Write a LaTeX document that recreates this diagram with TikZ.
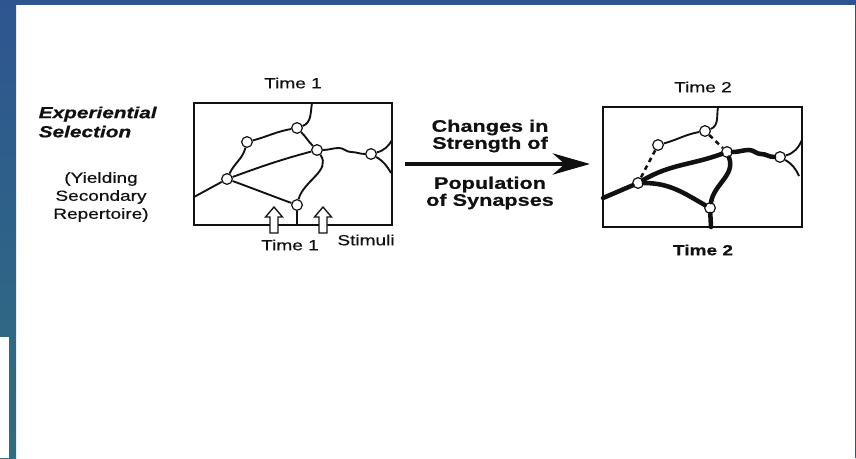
\documentclass[tikz,border=0pt]{standalone}
\usepackage{fontspec}
\setsansfont[FakeStretch=1.3,FakeBold=0.5]{Liberation Sans}
\usetikzlibrary{arrows.meta,calc,positioning}
\definecolor{SlideBlue}{HTML}{2E5590}
\definecolor{SlideTeal}{HTML}{2F6E80}
\definecolor{ScanInk}{HTML}{111111}
\tikzset{
  every node/.style={font=\sffamily, text=ScanInk},
  panel/.style={draw=ScanInk, line width=1.8pt},
  synapse/.style={circle, draw=ScanInk, fill=white, line width=0.9pt, inner sep=0pt, minimum size=8pt},
  weak/.style={draw=ScanInk, line width=1.4pt},
  strong/.style={draw=ScanInk, line width=3.4pt, line cap=round},
  lost/.style={draw=ScanInk, line width=1.9pt, dash pattern=on 3.5pt off 3pt},
  stimulus/.style={draw=ScanInk, line width=1pt, fill=white},
  change/.style={-{Stealth[length=28pt,width=16pt]}, draw=ScanInk, line width=2.4pt},
  caption/.style={font=\sffamily\fontsize{11}{13.5}\selectfont, align=center},
  bigcaption/.style={font=\sffamily\bfseries\fontsize{12.5}{12.75}\selectfont, align=center},
}

\begin{document}
\begin{tikzpicture}[x=0.75pt,y=0.75pt]
  \useasboundingbox (0,0) rectangle (856,458);
  \fill[white] (0,0) rectangle (856,458);
  % Slide frame
  \shade[top color=SlideBlue, bottom color=SlideTeal] (0,0) rectangle (16,458);
  \fill[SlideBlue] (0,453) rectangle (856,458);
  \fill[SlideBlue] (854.5,0) rectangle (856,458);
  \fill[white] (0,0) rectangle (9,121);

  % Left-hand labels
  \node[caption, font=\sffamily\bfseries\itshape\fontsize{12}{14.3}\selectfont, anchor=west, align=left]
    (selection) at (34,336) {Experiential\\Selection};
  \node[caption] (repertoire) at (101,261) {(Yielding\\Secondary\\Repertoire)};

  % Time 1 panel
  \draw[panel] (194,233) rectangle (392,355);
  \node[caption] (time1top) at (293,375) {Time 1};
  \node[synapse] (n1) at (297,330) {};
  \node[synapse] (n2) at (247,316) {};
  \node[synapse] (n3) at (317,308) {};
  \node[synapse] (n4) at (371,304) {};
  \node[synapse] (n5) at (227,279) {};
  \node[synapse] (n6) at (297,253) {};
  \coordinate (t1) at (312,355);
  \coordinate (l1) at (194,261);
  \coordinate (b1) at (297,233);
  \coordinate (r1) at (392,318);
  \coordinate (r2) at (391,285);
  \draw[weak] (n1) to[out=20,in=-100] (t1);
  \draw[weak] (n1) to[out=190,in=15] (n2);
  \draw[weak] (n1) to[out=-45,in=135] (n3);
  \draw[weak] (n2) to[out=-105,in=65] (n5);
  \draw[weak] (n5) to[out=20,in=195] (n3);
  \draw[weak] (n3) to[out=-55,in=75] (n6);
  \draw[weak] (n5) to[out=-20,in=160] (n6);
  \draw[weak] (n5) -- (l1);
  \draw[weak] (n6) -- (b1);
  \draw[weak] (n3) to[out=0,in=180] ++(22,2) to[out=0,in=180] ++(12,-4) to[out=0,in=180] (n4);
  \draw[weak] (n4) to[out=15,in=-120] (r1);
  \draw[weak] (n4) to[out=-30,in=120] (r2);

  % Stimuli
  \foreach \x in {274,323} {
    \draw[stimulus] (\x-4,225) -- (\x-4,241) -- (\x-8.5,241) -- (\x,251)
      -- (\x+8.5,241) -- (\x+4,241) -- (\x+4,225) -- cycle;
  }
  \node[caption] (time1low) at (290,213) {Time 1};
  \node[caption] (stimuli) at (366,218) {Stimuli};

  % Change arrow
  \coordinate (a1) at (405,294);
  \coordinate (a2) at (590,294);
  \draw[change] (a1) -- (a2);
  \node[bigcaption] (changes) at (490,322) {Changes in\\Strength of};
  \node[bigcaption] (population) at (490,265) {Population\\of Synapses};

  % Time 2 panel
  \draw[panel] (603,231) rectangle (802,351);
  \node[caption] (time2top) at (703,371) {Time 2};
  \node[caption, font=\sffamily\bfseries\fontsize{11}{13.5}\selectfont] (time2low) at (703,208) {Time 2};
  \node[synapse] (m1) at (705,327) {};
  \node[synapse] (m2) at (658,313) {};
  \node[synapse] (m3) at (727,306) {};
  \node[synapse] (m4) at (780,301) {};
  \node[synapse] (m5) at (638,275) {};
  \node[synapse] (m6) at (710,250) {};
  \coordinate (t2) at (718,351);
  \coordinate (l2) at (603,260);
  \coordinate (b2) at (711,231);
  \coordinate (r3) at (802,318);
  \coordinate (r4) at (799,282);
  \draw[weak] (m1) to[out=20,in=-100] (t2);
  \draw[weak] (m1) to[out=190,in=15] (m2);
  \draw[lost] (m1) -- (m3);
  \draw[lost] (m2) -- (m5);
  \draw[strong] (m5) to[out=30,in=200] (m3);
  \draw[strong] (m3) to[out=-70,in=80] (m6);
  \draw[strong] (m5) to[out=0,in=150] (m6);
  \draw[strong] (m5) -- (l2);
  \draw[strong] (m6) -- (b2);
  \draw[strong] (m3) to[out=0,in=180] ++(22,2) to[out=0,in=180] ++(12,-4) to[out=0,in=180] (m4);
  \draw[weak] (m4) to[out=15,in=-115] (r3);
  \draw[weak] (m4) to[out=-30,in=115] (r4);
\end{tikzpicture}
\end{document}
